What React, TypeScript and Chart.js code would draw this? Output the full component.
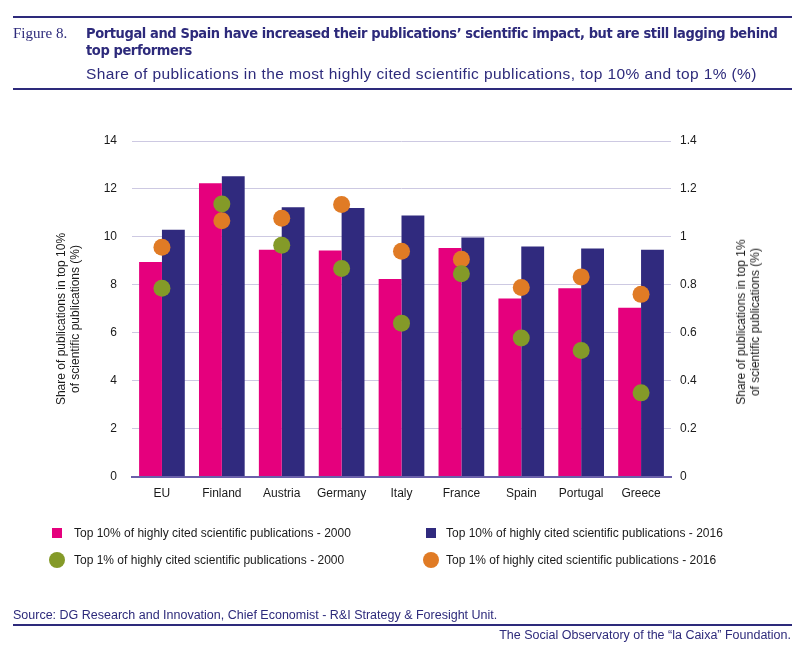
import { useEffect, useRef } from 'react';
import { Chart, registerables } from 'chart.js';

Chart.register(...registerables);

const countries = ['EU', 'Finland', 'Austria', 'Germany', 'Italy', 'France', 'Spain', 'Portugal', 'Greece'];
const top10_2000 = [8.95, 12.24, 9.46, 9.43, 8.24, 9.53, 7.43, 7.86, 7.04];
const top10_2016 = [10.3, 12.53, 11.24, 11.2, 10.89, 9.97, 9.6, 9.51, 9.46];
const top1_2000 = [0.786, 1.137, 0.965, 0.868, 0.64, 0.846, 0.578, 0.526, 0.349];
const top1_2016 = [0.957, 1.067, 1.078, 1.135, 0.94, 0.907, 0.789, 0.833, 0.76];

const PINK = '#e5007d';
const NAVY = '#302a7e';
const GREEN = '#849a28';
const ORANGE = '#e07b25';
const INK = '#2d2a7b';

const legendItems = [
    { label: 'Top 10% of highly cited scientific publications - 2000', color: PINK, round: false },
    { label: 'Top 10% of highly cited scientific publications - 2016', color: NAVY, round: false },
    { label: 'Top 1% of highly cited scientific publications - 2000', color: GREEN, round: true },
    { label: 'Top 1% of highly cited scientific publications - 2016', color: ORANGE, round: true },
];

const SANS = '"Liberation Sans", Arial, sans-serif';

export default function App() {
    const canvasRef = useRef<HTMLCanvasElement>(null);

    useEffect(() => {
        const ctx = canvasRef.current!.getContext('2d')!;
        Chart.defaults.font.family = SANS;

        const chart = new Chart(ctx, {
            type: 'bar',
            data: {
                labels: countries,
                datasets: [
                    { type: 'line', data: top1_2000, yAxisID: 'y1', showLine: false, pointRadius: 8.5, pointBackgroundColor: GREEN, pointBorderWidth: 0, order: 0 },
                    { type: 'line', data: top1_2016, yAxisID: 'y1', showLine: false, pointRadius: 8.5, pointBackgroundColor: ORANGE, pointBorderWidth: 0, order: 0 },
                    { type: 'bar', data: top10_2000, yAxisID: 'y', backgroundColor: PINK, order: 1 },
                    { type: 'bar', data: top10_2016, yAxisID: 'y', backgroundColor: NAVY, order: 1 },
                ],
            },
            options: {
                animation: false,
                responsive: true,
                maintainAspectRatio: false,
                layout: { padding: { top: 141, left: 0, right: 0, bottom: 143.5 } },
                datasets: { bar: { categoryPercentage: 0.763, barPercentage: 1 } },
                plugins: { legend: { display: false }, tooltip: { enabled: false } },
                scales: {
                    x: {
                        grid: { display: false },
                        border: { display: true, color: '#6a60aa', width: 2 },
                        ticks: { color: '#1a1a1a', font: { size: 12 }, padding: 2 },
                        afterFit: (s: any) => { s.height = 30; },
                    },
                    y: {
                        position: 'left',
                        min: 0,
                        max: 14,
                        ticks: { stepSize: 2, color: '#1a1a1a', font: { size: 12 }, padding: 15 },
                        grid: { color: '#cdc9e2', lineWidth: 1, drawTicks: false },
                        border: { display: false },
                        afterFit: (s: any) => { s.width = 132; },
                    },
                    y1: {
                        position: 'right',
                        min: 0,
                        max: 1.4,
                        ticks: {
                            stepSize: 0.2,
                            color: '#1a1a1a',
                            font: { size: 12 },
                            padding: 9,
                            callback: (v: any) => String(Number(Number(v).toFixed(1))),
                        },
                        grid: { display: false, drawTicks: false },
                        border: { display: false },
                        afterFit: (s: any) => { s.width = 129; },
                    },
                },
            },
        } as any);

        return () => {
            chart.destroy();
        };
    }, []);

    const rule = (top: number) => (
        <div style={{ position: 'absolute', left: 13, width: 779, top, height: 2, background: INK }} />
    );

    return (
        <div style={{ position: 'absolute', left: 0, top: 0, width: 800, height: 650, background: '#fff', fontFamily: SANS, overflow: 'hidden' }}>
            <div style={{ position: 'absolute', left: 0, top: 0, width: 800, height: 650 }}>
                <canvas ref={canvasRef} />
            </div>
            {rule(16)}
            <div style={{ position: 'absolute', left: 13, top: 25, fontFamily: '"Liberation Serif", serif', fontSize: 15, color: INK }}>Figure 8.</div>
            <div style={{ position: 'absolute', left: 86, top: 25, width: 710, fontFamily: '"DejaVu Sans Condensed", "DejaVu Sans", sans-serif', fontWeight: 'bold', fontSize: 14.5, letterSpacing: -0.4, lineHeight: '17px', color: INK }}>
                Portugal and Spain have increased their publications’ scientific impact, but are still lagging behind top performers
            </div>
            <div style={{ position: 'absolute', left: 86, top: 64, fontSize: 15.5, letterSpacing: 0.4, lineHeight: '20px', color: INK, whiteSpace: 'nowrap' }}>
                Share of publications in the most highly cited scientific publications, top 10% and top 1% (%)
            </div>
            {rule(88)}

            <div style={{ position: 'absolute', left: 68, top: 319, width: 0, height: 0 }}>
                <div style={{ position: 'absolute', transform: 'translate(-50%, -50%) rotate(-90deg)', fontSize: 12, lineHeight: '14px', textAlign: 'center', whiteSpace: 'nowrap', color: '#1a1a1a' }}>
                    Share of publications in top 10%<br />of scientific publications (%)
                </div>
            </div>
            <div style={{ position: 'absolute', left: 748, top: 322, width: 0, height: 0 }}>
                <div style={{ position: 'absolute', transform: 'translate(-50%, -50%) rotate(-90deg)', fontSize: 12, lineHeight: '14px', textAlign: 'center', whiteSpace: 'nowrap', color: '#1a1a1a' }}>
                    Share of publications in top 1%<br />of scientific publications (%)
                </div>
            </div>

            {legendItems.map((it, i) => {
                const col = i % 2;
                const row = Math.floor(i / 2);
                const cx = col === 0 ? 57 : 431;
                const cy = row === 0 ? 533 : 560;
                const size = it.round ? 16 : 10;
                return (
                    <div key={i}>
                        <div style={{ position: 'absolute', left: cx - size / 2, top: cy - size / 2, width: size, height: size, background: it.color, borderRadius: it.round ? '50%' : 0 }} />
                        <div style={{ position: 'absolute', left: col === 0 ? 74 : 446, top: cy - 8, fontSize: 12, lineHeight: '16px', color: '#1a1a1a', whiteSpace: 'nowrap' }}>{it.label}</div>
                    </div>
                );
            })}

            <div style={{ position: 'absolute', left: 13, top: 607, fontSize: 12.5, lineHeight: '16px', color: INK, whiteSpace: 'nowrap' }}>
                Source: DG Research and Innovation, Chief Economist - R&amp;I Strategy &amp; Foresight Unit.
            </div>
            {rule(624)}
            <div style={{ position: 'absolute', right: 9, top: 627, fontSize: 12.5, lineHeight: '16px', color: INK, whiteSpace: 'nowrap' }}>
                The Social Observatory of the “la Caixa” Foundation.
            </div>
        </div>
    );
}
